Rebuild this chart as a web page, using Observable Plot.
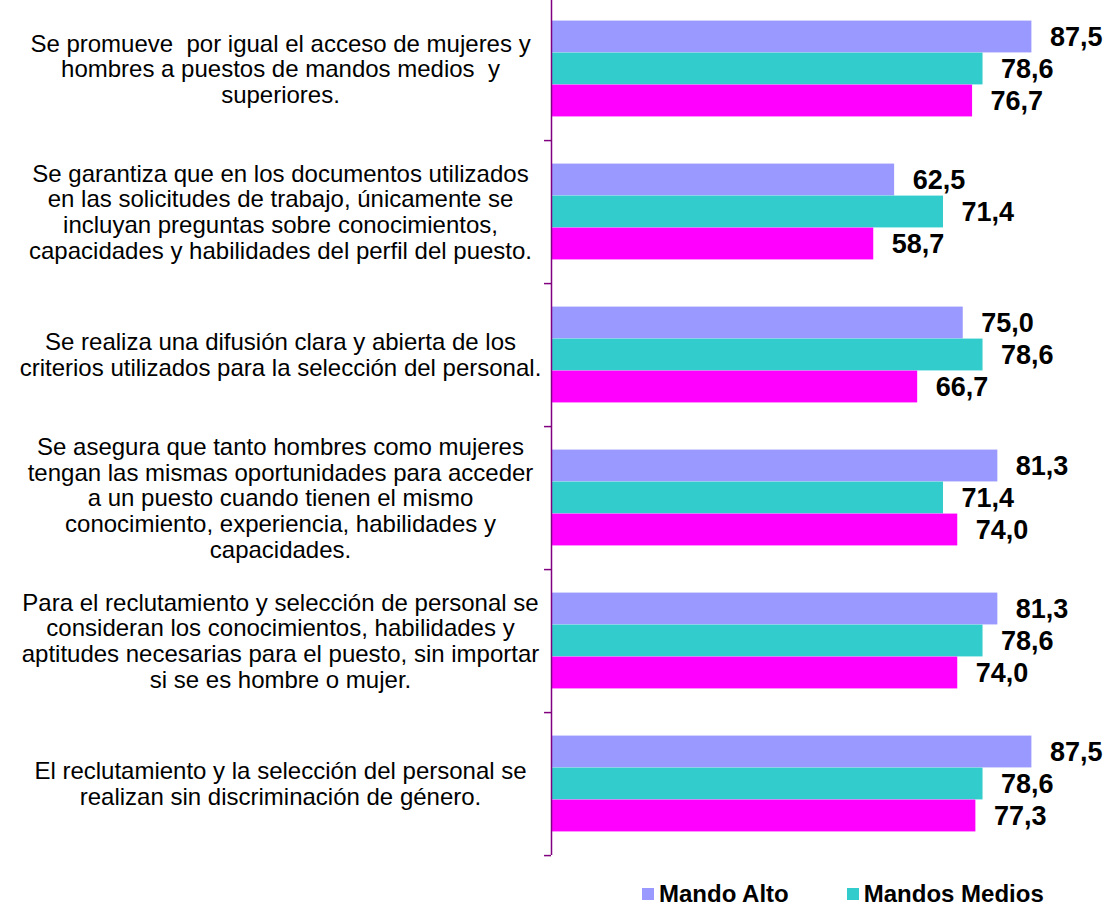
<!DOCTYPE html>
<html>
<head>
<meta charset="utf-8">
<script src="https://cdn.jsdelivr.net/npm/d3@7"></script>
<script src="https://cdn.jsdelivr.net/npm/@observablehq/plot@0.6"></script>
<style>
  body { margin: 0; background: #fff; font-family: "Liberation Sans", Arial, sans-serif; }
  #legend { display: flex; align-items: center; height: 24px; line-height: 24px; padding-left: 642px;
            font-weight: bold; font-size: 24px; color: #000; }
  #legend .sw { width: 12px; height: 12px; display: inline-block; margin-right: 5px; }
  #legend .item { display: flex; align-items: center; margin-right: 58px; }
</style>
</head>
<body>
<div id="chart"></div>
<div id="legend"></div>
<script>
const categories = [
  "Se promueve  por igual el acceso de mujeres y\nhombres a puestos de mandos medios  y\nsuperiores.",
  "Se garantiza que en los documentos utilizados\nen las solicitudes de trabajo, únicamente se\nincluyan preguntas sobre conocimientos,\ncapacidades y habilidades del perfil del puesto.",
  "Se realiza una difusión clara y abierta de los\ncriterios utilizados para la selección del personal.",
  "Se asegura que tanto hombres como mujeres\ntengan las mismas oportunidades para acceder\na un puesto cuando tienen el mismo\nconocimiento, experiencia, habilidades y\ncapacidades.",
  "Para el reclutamiento y selección de personal se\nconsideran los conocimientos, habilidades y\naptitudes necesarias para el puesto, sin importar\nsi se es hombre o mujer.",
  "El reclutamiento y la selección del personal se\nrealizan sin discriminación de género."
];
const seriesNames = ["Mando Alto", "Mandos Medios", "Personal Operativo"];
const mandoAlto = [87.5, 62.5, 75.0, 81.3, 81.3, 87.5];
const mandosMedios = [78.6, 71.4, 78.6, 71.4, 78.6, 78.6];
const personalOperativo = [76.7, 58.7, 66.7, 74.0, 74.0, 77.3];
const legendNames = ["Mando Alto", "Mandos Medios"];

const colors = ["#9999FF", "#33CCCC", "#FF00FF"];
const axisColor = "#800080";
const seriesValues = [mandoAlto, mandosMedios, personalOperativo];

const rows = seriesValues.map((vals, s) =>
  categories.map((c, i) => ({category: c, value: vals[i], series: seriesNames[s]})));

const W = 1112, H = 882, plotTop = -4, plotBottom = 855;
const bandH = (plotBottom - plotTop) / categories.length;
const barH = 32;
const pad = (bandH - 3 * barH) / 2;
const fmt = v => v.toFixed(1).replace(".", ",");

const marks = [];
rows.forEach((data, i) => {
  marks.push(Plot.barX(data, {
    x: "value", y: "category", fill: colors[i],
    insetTop: pad + barH * i, insetBottom: bandH - pad - barH * (i + 1)
  }));
});
rows.forEach((data, i) => {
  marks.push(Plot.text(data, {
    x: "value", y: "category", text: d => fmt(d.value),
    textAnchor: "start", dx: 18, dy: (i - 1) * barH,
    fontSize: 27, fontWeight: "bold", fill: "#000"
  }));
});
marks.push(Plot.ruleX([0], {stroke: axisColor, strokeWidth: 1.5}));
marks.push(Plot.ruleY(categories, {y: d => d, x1: -1.27, x2: 0, dy: bandH / 2, stroke: axisColor, strokeWidth: 1.5}));
marks.push(Plot.text(categories, {
  y: d => d, text: d => d, frameAnchor: "left", dx: -271, textAnchor: "middle",
  fontSize: 24, lineHeight: 1.07, fill: "#000"
}));

const chart = Plot.plot({
  width: W, height: H,
  marginTop: plotTop, marginBottom: H - plotBottom, marginLeft: 551, marginRight: 12,
  style: {fontFamily: "'Liberation Sans', Arial, sans-serif", background: "#fff"},
  x: {domain: [0, 100], axis: null},
  y: {domain: categories, padding: 0, axis: null},
  marks
});
document.getElementById("chart").appendChild(chart);

const legend = document.getElementById("legend");
legendNames.forEach((name) => {
  const i = seriesNames.indexOf(name);
  const item = document.createElement("span");
  item.className = "item";
  const sw = document.createElement("span");
  sw.className = "sw";
  sw.style.background = colors[i];
  item.appendChild(sw);
  item.appendChild(document.createTextNode(name));
  legend.appendChild(item);
});
</script>
</body>
</html>
